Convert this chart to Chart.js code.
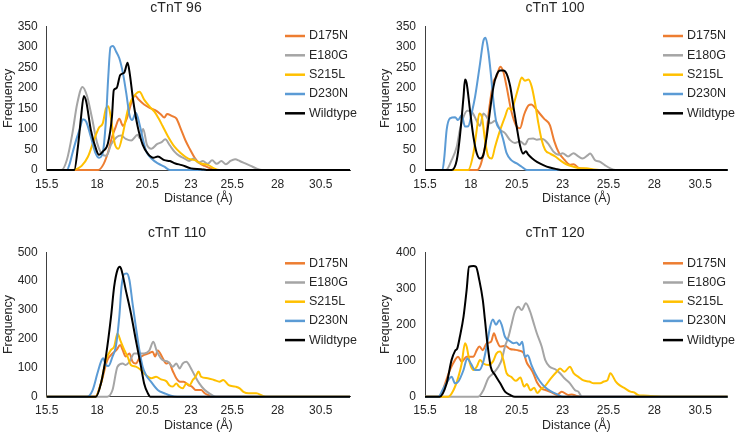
<!DOCTYPE html>
<html>
<head>
<meta charset="utf-8">
<script src="https://cdn.jsdelivr.net/npm/chart.js@4.4.1/dist/chart.umd.min.js"></script>
<style>
  html, body { margin: 0; padding: 0; background: #fff; }
  #wrap { position: relative; width: 735px; height: 433px; overflow: hidden; }
  #wrap canvas { position: absolute; }
</style>
</head>
<body>
<div id="wrap">
  <canvas id="c96"  width="367" height="215" style="left:0;top:0"></canvas>
  <canvas id="c100" width="368" height="215" style="left:367px;top:0"></canvas>
  <canvas id="c110" width="367" height="218" style="left:0;top:215px"></canvas>
  <canvas id="c120" width="368" height="218" style="left:367px;top:215px"></canvas>
</div>
<script>
// ── series + axis data ([distance Å, frequency]) ──
const SERIES_NAMES  = ['D175N', 'E180G', 'S215L', 'D230N', 'Wildtype'];
const SERIES_COLORS = ['#ED7D31', '#A5A5A5', '#FFC000', '#5B9BD5', '#000000'];
const X_TICK_LABELS = ['15.5', '18', '20.5', '23', '25.5', '28', '30.5'];
// where Excel actually put those labels along the axis (left panels drift a bit)
const X_TICK_POS_LEFT  = [15.5, 18.24, 20.97, 23.35, 25.59, 28.06, 30.41];
const X_TICK_POS_RIGHT = [15.5, 18, 20.5, 23, 25.5, 28, 30.5];
const X_MIN = 15.5, X_MAX = 32;

// cTnT 96
const t96_D175N = [[15.5,0],[18.3,0],[18.6,15],[18.85,45],[19.05,80],[19.25,105],[19.45,125],[19.65,108],[19.85,125],[20.1,163],[20.3,182],[20.5,172],[20.8,160],[21.1,152],[21.4,146],[21.7,136],[21.9,128],[22.05,137],[22.3,132],[22.55,126],[22.8,100],[23.05,72],[23.3,50],[23.55,30],[23.8,17],[24.1,10],[24.35,5],[24.7,0],[32,0]];
const t96_E180G = [[15.5,0],[16.3,0],[16.6,25],[16.9,90],[17.15,160],[17.45,203],[17.7,180],[17.95,130],[18.25,65],[18.55,37],[18.75,35],[19.0,62],[19.3,80],[19.55,84],[19.8,76],[20.1,72],[20.45,86],[20.55,78],[20.75,100],[20.95,62],[21.2,52],[21.5,63],[21.75,68],[21.95,75],[22.2,60],[22.45,45],[22.7,35],[23.0,28],[23.25,22],[23.5,28],[23.75,18],[24.0,22],[24.25,15],[24.5,24],[24.75,15],[25.0,22],[25.25,14],[25.5,22],[25.75,26],[26.0,22],[26.3,16],[26.6,10],[26.9,4],[27.2,0],[32,0]];
const t96_S215L = [[15.5,0],[16.9,0],[17.2,4],[17.4,10],[17.75,33],[18.1,77],[18.35,104],[18.55,114],[18.72,150],[18.85,156],[19.0,125],[19.2,65],[19.4,52],[19.65,90],[19.9,145],[20.1,170],[20.35,186],[20.55,191],[20.8,172],[21.1,155],[21.37,142],[21.6,125],[21.8,108],[22.1,82],[22.45,57],[22.8,41],[23.2,28],[23.55,24],[23.9,16],[24.3,12],[24.6,4],[24.9,0],[32,0]];
const t96_D230N = [[15.5,0],[16.6,0],[16.75,15],[16.9,41],[17.1,73],[17.3,100],[17.47,124],[17.65,118],[17.9,81],[18.15,42],[18.35,30],[18.55,42],[18.72,120],[18.85,228],[18.97,300],[19.1,303],[19.28,289],[19.45,273],[19.65,236],[19.83,187],[20.0,135],[20.15,122],[20.35,140],[20.55,112],[20.75,72],[20.92,45],[21.2,28],[21.55,16],[21.9,8],[22.2,0],[32,0]];
const t96_WT    = [[15.5,0],[17.0,0],[17.2,57],[17.37,130],[17.52,181],[17.65,167],[17.9,98],[18.2,49],[18.34,37],[18.55,45],[18.83,65],[19.05,130],[19.15,195],[19.3,200],[19.5,232],[19.72,238],[19.9,262],[20.02,235],[20.2,171],[20.45,106],[20.72,62],[21.0,40],[21.3,30],[21.55,33],[21.9,24],[22.2,22],[22.5,16],[22.85,12],[23.35,4],[23.9,2],[24.2,0],[32,0]];

// cTnT 100
const t100_D175N = [[15.5,0],[18.35,0],[18.55,15],[18.77,57],[19.0,150],[19.23,215],[19.4,228],[19.6,252],[19.77,240],[19.95,203],[20.2,145],[20.45,110],[20.68,102],[20.9,135],[21.15,158],[21.3,160],[21.5,152],[21.75,138],[22.0,125],[22.3,110],[22.55,70],[22.8,42],[23.1,25],[23.4,13],[23.6,14],[23.85,6],[24.3,2],[24.6,0],[32,0]];
const t100_E180G = [[15.5,0],[16.65,0],[16.95,24],[17.23,57],[17.4,98],[17.6,130],[17.8,145],[18.05,142],[18.32,120],[18.5,108],[18.68,138],[18.86,130],[19.08,114],[19.32,120],[19.6,98],[19.86,90],[20.14,73],[20.4,66],[20.68,70],[20.95,62],[21.15,76],[21.4,77],[21.6,74],[21.9,76],[22.2,65],[22.5,45],[22.8,37],[23.0,41],[23.3,33],[23.6,41],[23.86,33],[24.1,28],[24.4,37],[24.5,40],[24.77,24],[25.05,20],[25.3,12],[25.6,4],[25.9,0],[32,0]];
const t100_S215L = [[15.5,0],[17.85,0],[18.14,41],[18.32,98],[18.46,138],[18.6,130],[18.77,73],[18.95,33],[19.14,28],[19.32,57],[19.6,98],[19.86,130],[20.05,151],[20.23,147],[20.4,171],[20.6,203],[20.77,226],[20.95,218],[21.14,221],[21.32,203],[21.5,163],[21.68,114],[21.86,73],[22.05,49],[22.32,40],[22.6,33],[22.86,24],[23.2,14],[23.6,8],[23.95,4],[24.3,4],[24.7,1],[25.0,0],[32,0]];
const t100_D230N = [[15.5,0],[16.45,0],[16.55,30],[16.68,98],[16.86,126],[17.14,129],[17.3,122],[17.5,134],[17.68,106],[17.86,107],[18.05,140],[18.23,179],[18.5,260],[18.68,315],[18.8,323],[18.95,290],[19.1,230],[19.25,160],[19.4,114],[19.6,98],[19.77,73],[19.95,41],[20.2,24],[20.5,16],[20.77,8],[21.05,0],[32,0]];
const t100_WT    = [[15.5,0],[16.95,0],[17.23,24],[17.4,81],[17.6,179],[17.68,221],[17.77,212],[17.95,147],[18.14,81],[18.32,41],[18.5,28],[18.68,37],[18.86,81],[19.05,147],[19.23,203],[19.4,232],[19.6,243],[19.77,243],[19.95,235],[20.14,205],[20.32,155],[20.5,105],[20.68,60],[20.85,40],[21.0,46],[21.12,38],[21.35,28],[21.6,20],[21.95,12],[22.3,6],[22.7,2],[23.0,0],[32,0]];

// cTnT 110
const t110_D175N = [[15.5,0],[18.15,0],[18.45,46],[18.8,127],[19.08,150],[19.3,162],[19.5,179],[19.63,162],[19.8,139],[20.0,150],[20.17,121],[20.35,115],[20.54,133],[20.8,145],[21.05,150],[21.26,156],[21.4,139],[21.54,160],[21.8,135],[22.0,115],[22.15,118],[22.35,90],[22.55,64],[22.75,52],[22.95,52],[23.2,40],[23.4,35],[23.6,23],[23.9,23],[24.1,12],[24.3,5],[24.45,0],[32,0]];
const t110_E180G = [[15.5,0],[18.8,0],[19.08,23],[19.35,104],[19.63,115],[19.8,110],[20.0,121],[20.26,150],[20.45,150],[20.8,150],[21.08,160],[21.3,190],[21.5,156],[21.8,127],[22.1,121],[22.36,104],[22.55,115],[22.73,98],[22.9,115],[23.1,121],[23.3,104],[23.54,75],[23.8,46],[24.1,23],[24.4,9],[24.6,2],[24.8,0],[32,0]];
const t110_S215L = [[15.5,0],[18.15,0],[18.45,46],[18.72,127],[19.0,162],[19.17,173],[19.35,219],[19.5,196],[19.72,162],[19.9,139],[20.08,110],[20.35,104],[20.63,92],[20.9,75],[21.2,64],[21.45,69],[21.72,60],[22.0,54],[22.17,40],[22.36,35],[22.55,46],[22.7,35],[22.9,29],[23.1,46],[23.27,40],[23.45,58],[23.6,69],[23.76,87],[23.9,69],[24.26,64],[24.6,58],[24.9,52],[25.1,58],[25.4,40],[25.77,35],[26.0,29],[26.2,17],[26.5,12],[26.9,12],[27.3,2],[27.5,0],[32,0]];
const t110_D230N = [[15.5,0],[17.7,0],[18.0,23],[18.26,81],[18.45,121],[18.57,133],[18.72,110],[18.86,106],[19.08,139],[19.26,173],[19.45,277],[19.57,381],[19.72,425],[19.86,427],[20.0,404],[20.17,323],[20.35,242],[20.54,162],[20.72,104],[20.9,75],[21.17,52],[21.54,23],[21.9,12],[22.26,3],[22.6,0],[32,0]];
const t110_WT    = [[15.5,0],[18.17,0],[18.45,46],[18.72,139],[19.0,277],[19.17,381],[19.35,439],[19.48,450],[19.57,439],[19.8,370],[20.08,289],[20.35,196],[20.63,104],[20.8,46],[21.0,12],[21.14,0],[32,0]];

// cTnT 120
const t120_D175N = [[15.5,0],[16.3,0],[16.6,37],[16.86,74],[17.14,102],[17.3,111],[17.5,97],[17.77,111],[18.14,111],[18.32,129],[18.46,139],[18.65,129],[18.86,148],[19.1,152],[19.26,176],[19.4,157],[19.6,139],[19.86,141],[20.14,132],[20.4,130],[20.6,128],[20.86,122],[21.05,94],[21.23,80],[21.4,65],[21.6,40],[21.86,23],[22.1,18],[22.4,12],[22.7,5],[22.95,14],[23.3,5],[23.5,6],[23.77,2],[24.1,0],[32,0]];
const t120_E180G = [[15.5,0],[18.4,0],[18.68,18],[18.95,51],[19.23,65],[19.5,83],[19.68,102],[19.86,139],[20.05,166],[20.23,203],[20.4,236],[20.6,249],[20.77,240],[21.0,259],[21.23,236],[21.4,208],[21.6,175],[21.86,139],[22.05,102],[22.3,83],[22.6,76],[22.86,65],[23.1,51],[23.4,37],[23.68,18],[23.86,14],[24.05,0],[32,0]];
const t120_S215L = [[15.5,0],[16.77,0],[17.05,18],[17.32,55],[17.5,92],[17.68,148],[17.77,139],[17.95,92],[18.14,74],[18.32,83],[18.5,102],[18.68,92],[18.95,88],[19.2,97],[19.4,120],[19.6,125],[19.77,102],[19.95,65],[20.2,55],[20.45,44],[20.7,53],[20.9,28],[21.05,35],[21.25,18],[21.45,25],[21.62,10],[21.8,20],[22.05,30],[22.35,50],[22.68,69],[22.86,78],[23.1,69],[23.4,83],[23.6,65],[23.86,55],[24.14,45],[24.45,42],[24.7,37],[25.05,37],[25.25,42],[25.45,46],[25.6,65],[25.9,42],[26.1,32],[26.4,23],[26.7,14],[26.9,12],[27.1,5],[27.4,3],[27.8,2],[28.4,0],[32,0]];
const t120_D230N = [[15.5,0],[16.23,0],[16.5,23],[16.77,46],[16.95,55],[17.14,37],[17.32,42],[17.6,74],[17.8,106],[18.0,92],[18.23,74],[18.46,74],[18.68,97],[18.86,139],[19.05,194],[19.2,214],[19.37,199],[19.55,212],[19.68,199],[19.86,166],[20.1,155],[20.32,148],[20.5,150],[20.65,143],[20.8,152],[20.95,110],[21.1,115],[21.3,88],[21.5,65],[21.77,42],[22.05,26],[22.32,16],[22.68,7],[23.05,0],[32,0]];
const t120_WT    = [[15.5,0],[16.3,0],[16.68,37],[16.95,102],[17.14,127],[17.26,134],[17.4,166],[17.6,222],[17.77,296],[17.9,360],[18.14,362],[18.28,360],[18.46,323],[18.65,268],[18.77,212],[18.9,148],[19.08,83],[19.32,60],[19.6,37],[19.86,14],[20.14,5],[20.4,0],[32,0]];

// ── layout for each panel (canvas px) ──
const FONT = '"Liberation Sans", Arial, Helvetica, sans-serif';
const TEXT = '#262626';

const PANELS = [
  { id: 'c96',  title: 'cTnT 96',  yMax: 350, yStep: 50, ticks: X_TICK_POS_LEFT,
    series: [t96_D175N, t96_E180G, t96_S215L, t96_D230N, t96_WT],
    area: { left: 46.7, right: 350, top: 26.7, bottom: 170 }, w: 367, h: 215,
    titleXY: [176, 8], yTitlePad: 1.5, xTitlePad: 8.5,
    legend: { x0: 285, x1: 305, tx: 309, ys: [36, 55.3, 74.7, 94, 113.3] } },
  { id: 'c100', title: 'cTnT 100', yMax: 350, yStep: 50, ticks: X_TICK_POS_RIGHT,
    series: [t100_D175N, t100_E180G, t100_S215L, t100_D230N, t100_WT],
    area: { left: 58, right: 360.7, top: 26.7, bottom: 170 }, w: 368, h: 215,
    titleXY: [188, 8], yTitlePad: 11, xTitlePad: 8.5,
    legend: { x0: 296, x1: 316, tx: 320, ys: [36, 55.3, 74.7, 94, 113.3] } },
  { id: 'c110', title: 'cTnT 110', yMax: 500, yStep: 100, ticks: X_TICK_POS_LEFT,
    series: [t110_D175N, t110_E180G, t110_S215L, t110_D230N, t110_WT],
    area: { left: 46.7, right: 350, top: 37.3, bottom: 181.7 }, w: 367, h: 218,
    titleXY: [177, 18], yTitlePad: 1.5, xTitlePad: 0,
    legend: { x0: 285, x1: 305, tx: 309, ys: [48.3, 67.5, 86.7, 105.9, 125.1] } },
  { id: 'c120', title: 'cTnT 120', yMax: 400, yStep: 100, ticks: X_TICK_POS_RIGHT,
    series: [t120_D175N, t120_E180G, t120_S215L, t120_D230N, t120_WT],
    area: { left: 58, right: 360.7, top: 37.3, bottom: 181.7 }, w: 368, h: 218,
    titleXY: [188, 18], yTitlePad: 11, xTitlePad: 0,
    legend: { x0: 296, x1: 316, tx: 320, ys: [48.3, 67.5, 86.7, 105.9, 125.1] } },
];

/** Draws the panel title and the Excel-style legend over the plot area. */
const panelDecor = {
  id: 'panelDecor',
  afterDraw(chart, args, opts) {
    const ctx = chart.ctx;
    ctx.save();
    ctx.fillStyle = TEXT;
    ctx.textBaseline = 'middle';
    ctx.textAlign = 'center';
    ctx.font = `14px ${FONT}`;
    ctx.fillText(opts.title, opts.titleXY[0], opts.titleXY[1]);

    ctx.textAlign = 'left';
    ctx.font = `12.5px ${FONT}`;
    chart.data.datasets.forEach((ds, i) => {
      const y = opts.legend.ys[i];
      ctx.strokeStyle = ds.borderColor;
      ctx.lineWidth = 2.5;
      ctx.beginPath();
      ctx.moveTo(opts.legend.x0, y);
      ctx.lineTo(opts.legend.x1, y);
      ctx.stroke();
      ctx.fillStyle = TEXT;
      ctx.fillText(ds.label, opts.legend.tx, y);
    });
    ctx.restore();
  },
};

function buildPanel(p) {
  const datasets = p.series.map((pts, i) => ({
    label: SERIES_NAMES[i],
    data: pts.map(([x, y]) => ({ x, y })),
    borderColor: SERIES_COLORS[i],
    backgroundColor: SERIES_COLORS[i],
    borderWidth: 2,
    pointRadius: 0,
    cubicInterpolationMode: 'monotone',
    fill: false,
    clip: false,
    order: SERIES_NAMES.length - i, // later series on top, like Excel
  }));

  new Chart(document.getElementById(p.id), {
    type: 'line',
    data: { datasets },
    plugins: [panelDecor],
    options: {
      responsive: false,
      animation: false,
      events: [],
      layout: { padding: { left: 0, right: p.w - p.area.right, top: p.area.top, bottom: 0 } },
      scales: {
        x: {
          type: 'linear',
          min: X_MIN,
          max: X_MAX,
          afterBuildTicks: s => { s.ticks = p.ticks.map(v => ({ value: v })); },
          afterFit: s => { s.height = p.h - p.area.bottom; },
          ticks: { autoSkip: false, maxRotation: 0, padding: 7, color: TEXT,
                   font: { family: FONT, size: 12 },
                   callback: (v, i) => X_TICK_LABELS[i] },
          grid: { display: false, drawTicks: false },
          border: { display: true, color: '#404040', width: 1 },
          title: { display: true, text: 'Distance (Å)', color: TEXT,
                   font: { family: FONT, size: 12.5 }, padding: { top: 0, bottom: p.xTitlePad } },
        },
        y: {
          min: 0,
          max: p.yMax,
          afterFit: s => { s.width = p.area.left; },
          ticks: { stepSize: p.yStep, padding: 9, color: TEXT, font: { family: FONT, size: 12 } },
          grid: { display: false, drawTicks: false },
          border: { display: true, color: '#404040', width: 1 },
          title: { display: true, text: 'Frequency', color: TEXT,
                   font: { family: FONT, size: 12.5 }, padding: { top: p.yTitlePad, bottom: 0 } },
        },
      },
      plugins: {
        legend: { display: false },
        tooltip: { enabled: false },
        panelDecor: { title: p.title, titleXY: p.titleXY, legend: p.legend },
      },
    },
  });
}

PANELS.forEach(buildPanel);
</script>
</body>
</html>
